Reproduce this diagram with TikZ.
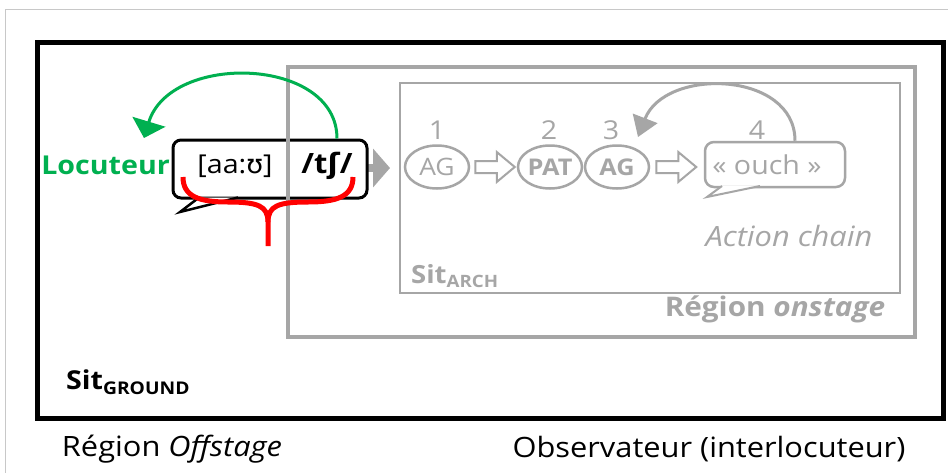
\documentclass[tikz,border=0pt]{standalone}
\usepackage{fontspec}
\setmainfont{Open Sans}[FakeStretch=1.1]
\newfontfamily\ipafont{DejaVu Sans}[FakeStretch=1.05]
\usetikzlibrary{arrows.meta,calc,shapes.geometric}
\definecolor{lgray}{RGB}{166,166,166}
\definecolor{fgray}{RGB}{200,200,200}
\definecolor{vgreen}{RGB}{0,176,80}
\definecolor{vred}{RGB}{255,0,0}
\newcommand{\fs}[1]{\fontsize{#1}{#1}\selectfont}
\newcommand{\hollowarrow}[2]{%
  \draw[hollowar] let \p1=#1, \p2=#2 in
  (\x1,\y1-6pt) -- (\x2-18pt,\y1-6pt) -- (\x2-18pt,\y1-15pt) -- (\x2,\y1)
  -- (\x2-18pt,\y1+15pt) -- (\x2-18pt,\y1+6pt) -- (\x1,\y1+6pt) -- cycle;}
\begin{document}
\begin{tikzpicture}[x=1pt,y=-1pt,
  ell/.style={draw=lgray, line width=2.5pt, ellipse, minimum width=64pt,
    minimum height=43pt, inner sep=0pt, text=lgray, font=\fs{24}},
  num/.style={text=lgray, font=\fs{26}},
  hollowar/.style={draw=lgray, line width=2pt, fill=white, line join=miter},
  graytext/.style={text=lgray},
  brace/.style={vred, line width=5pt},
]
\useasboundingbox (0,0) rectangle (948,472);
\fill[white] (0,0) rectangle (948,472);
% outer thin frame
\draw[fgray, line width=1pt] (5,9) rectangle (970,490);
% Sit ground frame
\draw[black, line width=5pt] (37,42) rectangle (943,418);

% speaker bubble
\draw[lgray, line width=8pt, -{Triangle[width=38pt,length=17pt]}] (356,168) -- (390,168);
\node[draw, line width=3pt, rounded corners=8pt, fill=white, minimum width=194pt,
  minimum height=58pt, inner sep=0pt] (bub) at (270,169) {};
\filldraw[fill=white, draw=black, line width=2.5pt, line join=miter]
  (199,197.5) -- (180,212) -- (238,197.5);
\node[font=\fs{26}] (ipa1) at (235,166) {[aa:{\ipafont ʊ}]};
\node[font=\fs{28}\bfseries] (ipa2) at (327,166) {/t{\ipafont\bfseries ʃ}/};

% onstage region
\draw[lgray, line width=4pt] (288,67) rectangle (915,337);
\draw[lgray, line width=2.5pt] (400,83) rectangle (900,293);

% action chain
\node[ell] (a1) at (437,167) {AG};
\node[ell, font=\fs{23}\bfseries] (pat) at (550,167) {PAT};
\node[ell, font=\fs{23}\bfseries] (a2) at (617,167) {AG};
\node[num] (n1) at (437,130) {1};
\node[num] (n2) at (549,130) {2};
\node[num] (n3) at (611,130) {3};
\node[num] (n4) at (757,130) {4};
\hollowarrow{($(a1.east)+(5,0)$)}{($(pat.west)+(-2,0)$)}
\hollowarrow{($(a2.east)+(6,0)$)}{($(a2.east)+(46,0)$)}

\node[draw=lgray, line width=2.5pt, rounded corners=9pt, fill=white,
  minimum width=140pt, minimum height=45pt, inner sep=0pt] (ouch) at (775,164.5) {};
\filldraw[draw=lgray, fill=white, line width=2pt, line join=miter]
  (722,186) -- (707,197) -- (760,186);
\node[font=\fs{26}, graytext] (ouchtxt) at (767,165) {« ouch »};

\coordinate (g3) at (638,137);
\draw[lgray, line width=3pt, -{Triangle[width=26pt,length=20pt]}]
  ([xshift=20pt]ouch.north) .. controls +(0,-70) and +(27,-70) .. (g3);

% Locuteur
\node[font=\fs{26}\bfseries, text=vgreen, anchor=east, inner sep=1pt] (loc) at (171,165) {Locuteur};
\coordinate (loctip) at (144,138);
\draw[vgreen, line width=3pt, -{Triangle[width=34pt,length=17pt]}]
  ([xshift=67pt]bub.north) .. controls +(0,-82) and +(26,-86) .. (loctip);

% red brace
\draw[brace] (183,177) .. controls (183,197) and (200,202) .. (228,202)
  .. controls (258,202) and (268,206) .. (268,222) -- (268,246);
\draw[brace] (353,177) .. controls (353,197) and (336,202) .. (308,202)
  .. controls (278,202) and (268,206) .. (268,222);

% labels
\node[font=\fs{28}\itshape, graytext] (act) at (789,236) {Action chain};
\node[font=\fs{25}\bfseries, graytext, anchor=base west, inner sep=0pt] (sarch) at (411,283)
  {Sit\raisebox{-4pt}{\fs{17}ARCH}};
\node[font=\fs{27}\bfseries, graytext] (onst) at (775,309) {Région \textit{onstage}};
\node[font=\fs{26}\bfseries, anchor=base west, inner sep=0pt] (sground) at (66,389)
  {Sit\raisebox{-5pt}{\fs{17.5}GROUND}};
\node[font=\fs{28}] (offst) at (172,449) {Région \textit{Offstage}};
\node[font=\fs{28}] (obs) at (709,449) {Observateur (interlocuteur)};
\end{tikzpicture}
\end{document}
